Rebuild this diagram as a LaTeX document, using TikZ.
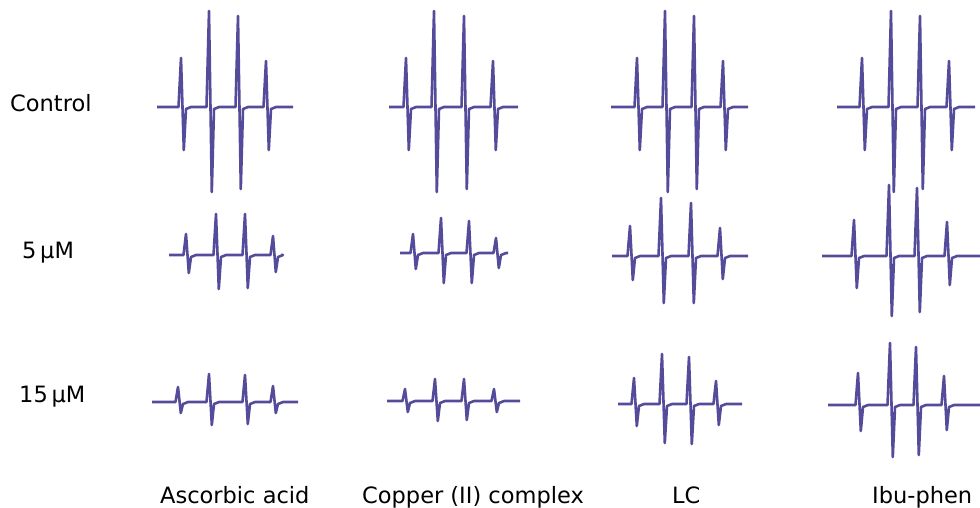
\documentclass[tikz,border=0pt]{standalone}
\usepackage{fontspec}
\setmainfont{DejaVu Sans}
\definecolor{eprblue}{RGB}{84,76,154}
% one EPR trace: start x, end x, baseline, list of line x/top/bottom
\newcommand{\eprtrace}[4]{%
  \draw[trace] (#1,#3) \foreach \x/\t/\d in {#4} {
    -- (\x-2.5,#3) -- (\x,\t) -- (\x+2.8,\d) -- (\x+5,#3+2) -- (\x+10,#3)
  } -- (#2,#3);
}
\begin{document}
\begin{tikzpicture}[x=1pt,y=-1pt,
  trace/.style={eprblue,line width=2.6pt,line join=round},
  rowname/.style={anchor=base west,inner sep=0pt,font=\fontsize{22.5}{26}\selectfont},
  colname/.style={anchor=base west,inner sep=0pt,font=\fontsize{22.5}{26}\selectfont}]
  \useasboundingbox (0,0) rectangle (980,508);
  % row names
  \node[rowname] (control) at (10,112) {Control};
  \node[rowname] (five) at (22,258) {5\,µM};
  \node[rowname] (fifteen) at (19,402) {15\,µM};
  % column names
  \node[colname] (ascorbic) at (160,503) {Ascorbic acid};
  \node[colname] (copper) at (362,503) {Copper (II) complex};
  \node[colname] (lc) at (672,503) {LC};
  \node[colname] (ibuphen) at (872,503) {Ibu-phen};
  % control
  \eprtrace{157}{293}{107}{181/58/150, 209/11/192, 238/16/189, 266/61/150}
  \eprtrace{389}{518}{107}{406/58/150, 434/11/192, 464/16/189, 493/61/150}
  \eprtrace{611}{748}{107}{637/58/150, 665/11/192, 694/16/189, 723/61/150}
  \eprtrace{837}{975}{107}{862/58/150, 891/11/192, 920/16/189, 949/61/150}
  % 5 uM
  \eprtrace{169}{281}{255}{186/234/273, 216/214/289, 245/214/288, 273/236/272}
  \eprtrace{400}{508}{253}{413/234/269, 441/218/283, 469/221/283, 496/238/268}
  \eprtrace{612}{748}{256}{630/226/280, 661/198/303, 691/203/303, 720/228/279}
  \eprtrace{822}{980}{256}{854/220/288, 889/185/316, 917/188/312, 947/222/285}
  % 15 uM
  \eprtrace{152}{298}{402}{178/387/413, 209/374/425, 245/375/424, 273/386/413}
  \eprtrace{387}{520}{401}{405/389/412, 435/379/421, 464/379/420, 494/389/412}
  \eprtrace{618}{742}{404}{634/378/426, 662/354/443, 689/357/444, 716/381/425}
  \eprtrace{828}{980}{405}{858/373/431, 890/343/457, 916/347/455, 944/376/430}
\end{tikzpicture}
\end{document}
